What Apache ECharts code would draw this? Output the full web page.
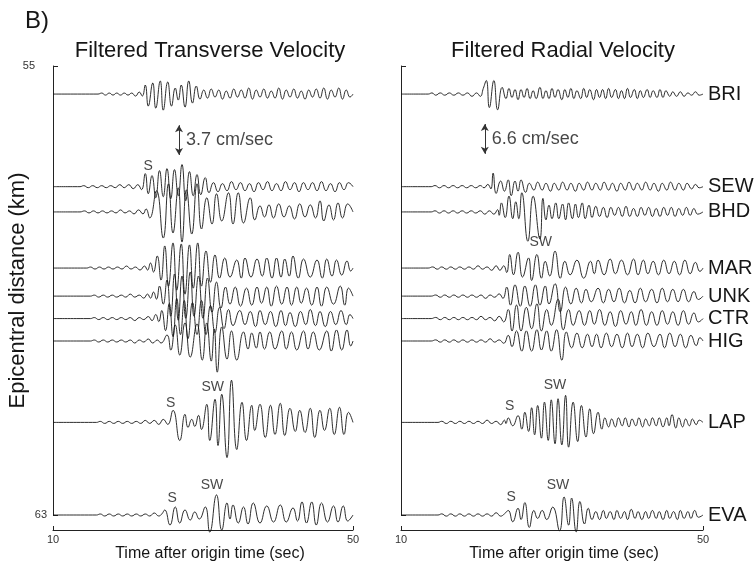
<!DOCTYPE html>
<html>
<head>
<meta charset="utf-8">
<script src="https://cdn.jsdelivr.net/npm/echarts@6/dist/echarts.min.js"></script>
<style>html,body{margin:0;padding:0;background:#fff}#chart{width:756px;height:567px}</style>
</head>
<body>
<div id="chart"></div>
<script>
// stations and epicentral distance (km)
var stations = ['BRI', 'SEW', 'BHD', 'MAR', 'UNK', 'CTR', 'HIG', 'LAP', 'EVA'];
var distances = [55.5, 57.15, 57.6, 58.6, 59.1, 59.5, 59.9, 61.35, 63.0];
var timeTicks = [10, 50];
var distTicks = [55, 63];
var scaleBars = [3.7, 6.6];           // cm/sec, transverse / radial

// digitized peaks and troughs: [time (sec), amplitude]
// transverse amplitudes in counts of 1/8 cm/sec
var tBRI = [[10,0],[16,0],[16.5,1],[17,-1],[17.5,1],[18,-1],[18.5,1],[19,-1],[19.5,1],[20,-1],[20.5,1],[21,-2],[21.5,2],[21.9,-2],[22.3,9],[22.7,-12],[23.3,11],[23.7,-14],[24.3,13],[24.7,-16],[25.3,12],[25.8,-12],[26.3,6],[26.7,-6],[27.1,9],[27.6,-13],[28.1,13],[28.6,-9],[29.1,8],[29.6,-5],[30.1,4],[30.6,-4],[31.1,5],[31.6,-3],[32.1,4],[32.6,-5],[33.1,3],[33.6,-4],[34.1,5],[34.6,-3],[35.1,4],[35.6,-4],[36.1,6],[36.6,-5],[37.1,4],[37.6,-3],[38.1,5],[38.6,-4],[39.1,3],[39.6,-4],[40.1,6],[40.6,-5],[41.1,4],[41.6,-3],[42.1,5],[42.6,-4],[43.1,3],[43.6,-5],[44.1,4],[44.6,-3],[45.1,5],[45.6,-4],[46.1,6],[46.6,-5],[47.1,4],[47.6,-3],[48.1,6],[48.6,-5],[49.1,4],[49.6,-3],[50,0]];
var tSEW = [[10,0],[13.6,0],[14.1,1],[14.7,-1],[15.3,1],[15.9,-1],[16.5,1],[17.1,-1],[17.7,1],[18.3,-1],[18.9,2],[19.5,-1],[20.1,2],[20.7,-2],[21.3,2],[21.8,-3],[22.3,13],[22.7,-7],[23.2,11],[23.7,-11],[24.2,16],[24.7,-10],[25.2,18],[25.7,-12],[26.2,17],[26.7,-9],[27.2,22],[27.7,-14],[28.2,15],[28.7,-9],[29.2,12],[29.7,-8],[30.3,9],[30.8,-6],[31.4,4],[32,-5],[32.6,3],[33.2,-4],[33.8,5],[34.4,-3],[35,4],[35.6,-4],[36.2,3],[36.8,-5],[37.4,4],[38,-3],[38.6,5],[39.2,-4],[39.8,3],[40.4,-4],[41,5],[41.6,-3],[42.2,4],[42.8,-5],[43.4,4],[44,-3],[44.6,4],[45.2,-4],[45.8,5],[46.4,-4],[47,3],[47.6,-5],[48.2,4],[48.8,-3],[49.4,4],[50,0]];
var tBHD = [[10,0],[13.6,0],[14.2,1],[14.8,-1],[15.4,1],[16,-1],[16.6,1],[17.2,-1],[17.8,1],[18.4,-1],[19,2],[19.6,-1],[20.2,1],[20.8,-2],[21.4,2],[22,-2],[22.4,3],[22.9,-6],[23.8,21],[24.7,-26],[25.4,28],[26,-21],[26.7,24],[27.2,-30],[27.8,22],[28.5,-22],[29.2,28],[29.8,-17],[30.5,14],[31.2,-12],[31.8,18],[32.5,-9],[33.4,19],[34,-12],[34.7,19],[35.4,-11],[36.3,14],[36.9,-8],[37.6,6],[38.2,-5],[38.8,7],[39.4,-6],[40.1,8],[40.8,-5],[41.5,6],[42.2,-7],[42.9,8],[43.6,-5],[44.3,7],[45,-6],[45.6,11],[46.1,-9],[46.8,7],[47.4,-8],[48,9],[48.6,-6],[49.3,8],[50,0]];
var tMAR = [[10,0],[14.5,0],[15,1],[15.6,-1],[16.2,1],[16.8,-1],[17.4,1],[18,-1],[18.6,1],[19.2,-1],[19.8,2],[20.4,-1],[21,1],[21.6,-2],[22.2,2],[22.6,-2],[23,5],[23.4,-4],[23.9,12],[24.4,-12],[24.9,22],[25.4,-18],[26,25],[26.5,-22],[27.1,24],[27.6,-26],[28.2,23],[28.7,-20],[29.3,25],[29.8,-18],[30.4,17],[31,-14],[31.6,13],[32.2,-10],[32.9,10],[33.6,-9],[34.5,8],[35.1,-10],[35.6,10],[36.4,-9],[37.2,9],[37.9,-8],[38.5,10],[39.2,-10],[39.8,10],[40.4,-9],[40.9,9],[41.5,-8],[42,12],[42.7,-10],[43.4,9],[44.3,-9],[45.2,8],[45.9,-10],[46.5,9],[47.2,-8],[47.8,8],[48.5,-7],[49.2,7],[49.7,-3],[50,0]];
var tUNK = [[10,0],[15,0],[15.5,1],[16.1,-1],[16.7,1],[17.3,-1],[17.9,1],[18.5,-1],[19.1,1],[19.7,-1],[20.3,2],[20.9,-1],[21.5,1],[22.1,-2],[22.6,2],[23,-2],[23.4,4],[23.8,-3],[24.2,10],[24.7,-8],[25.2,16],[25.7,-20],[26.2,22],[26.7,-24],[27.2,20],[27.7,-22],[28.3,24],[28.8,-20],[29.4,20],[30,-22],[30.6,18],[31.2,-16],[31.8,14],[32.4,-12],[33,9],[33.6,-8],[34.3,9],[35,-10],[35.8,8],[36.5,-9],[37.2,9],[37.8,-7],[38.5,9],[39.1,-10],[39.8,10],[40.5,-8],[41.2,9],[41.8,-9],[42.5,9],[43.1,-7],[43.8,8],[44.5,-9],[45.2,9],[45.8,-10],[46.5,9],[47.4,-8],[48.3,10],[48.9,-9],[49.4,8],[50,0]];
var tCTR = [[10,0],[15,0],[15.5,1],[16.1,-1],[16.7,1],[17.3,-1],[17.9,1],[18.5,-1],[19.1,1],[19.7,-1],[20.3,1],[20.9,-2],[21.5,1],[22.1,-1],[22.7,2],[23.2,-2],[23.7,4],[24.1,-3],[24.5,8],[25,-12],[25.5,15],[26,-18],[26.5,20],[27,-16],[27.5,18],[28,-20],[28.6,16],[29.2,-16],[29.8,18],[30.4,-16],[31,13],[31.6,-14],[32.2,11],[32.8,-10],[33.4,9],[34,-7],[34.9,8],[35.6,-6],[36.3,7],[37,-8],[37.6,8],[38.3,-6],[39,7],[39.7,-8],[40.4,8],[41,-7],[41.6,6],[42.3,-8],[43,7],[43.7,-6],[44.3,9],[45,-7],[45.6,7],[46.3,-8],[47,7],[47.7,-6],[48.4,8],[49.1,-6],[49.6,4],[50,0]];
var tHIG = [[10,0],[15,0],[15.5,1],[16.1,-1],[16.7,1],[17.3,-1],[17.9,1],[18.5,-1],[19.1,1],[19.7,-1],[20.3,1],[20.9,-2],[21.5,1],[22.1,-1],[22.7,2],[23.3,-2],[23.9,1],[24.4,-2],[25.2,6],[25.7,-9],[26.3,16],[26.9,-14],[27.6,18],[28.3,-16],[29.2,17],[29.9,-19],[30.5,18],[31.1,-20],[31.5,12],[31.9,-31],[32.5,14],[33.2,-18],[33.8,10],[34.5,-19],[35.4,9],[36,-8],[36.5,8],[37.1,-7],[37.6,9],[38.2,-8],[38.9,9],[39.6,-8],[40.5,10],[41.1,-8],[41.8,9],[42.5,-9],[43.4,10],[44,-8],[44.7,9],[45.5,-9],[46.5,10],[47.1,-10],[47.8,11],[48.5,-9],[49.2,11],[49.7,-5],[50,0]];
var tLAP = [[10,0],[15.8,0],[16.3,1],[16.9,-1],[17.5,1],[18.1,-1],[18.7,1],[19.3,-1],[19.9,1],[20.5,-1],[21.1,1],[21.7,-1],[22.3,2],[22.9,-1],[23.5,2],[24.1,-2],[24.7,3],[25.3,-2],[26,12],[26.9,-18],[27.6,8],[28,-5],[28.5,3],[28.9,-4],[29.4,7],[29.8,-7],[30.5,18],[30.9,-18],[31.6,23],[32,-23],[32.5,28],[33.2,-35],[33.8,42],[34.5,-27],[35.2,20],[35.8,-18],[36.5,17],[36.9,-8],[37.6,18],[38.3,-15],[39,17],[39.6,-12],[40.3,19],[40.9,-13],[41.6,14],[42.3,-9],[42.9,12],[43.6,-10],[44.3,14],[44.9,-15],[45.6,12],[46.2,-8],[46.9,14],[47.5,-12],[48.2,15],[48.8,-12],[49.4,10],[50,0]];
var tEVA = [[10,0],[15.8,0],[16.3,1],[16.9,-1],[17.5,1],[18.1,-1],[18.7,1],[19.3,-1],[19.9,1],[20.5,-1],[21.1,1],[21.7,-1],[22.3,1],[22.9,-1],[23.5,2],[24.1,-1],[24.5,1],[24.9,5],[25.6,-10],[26.3,8],[26.9,-8],[27.6,5],[28.3,-5],[28.9,3],[29.5,-4],[30.3,8],[30.9,-17],[31.8,20],[32.5,-15],[33.2,12],[33.6,-4],[34,10],[34.7,-8],[35.4,8],[36,-9],[36.7,12],[37.6,-8],[38.5,9],[39.4,-7],[40.3,10],[41.1,-7],[42,7],[42.6,-6],[43.2,13],[43.8,-8],[44.5,13],[45.1,-10],[45.8,12],[46.6,-7],[47.4,9],[48,-7],[48.7,9],[49.3,-6],[50,0]];

// radial amplitudes in counts of 1/4 cm/sec
var rBRI = [[10,0],[13.6,0],[14.1,1],[14.6,-1],[15.2,1],[15.8,-1],[16.4,1],[17,-1],[17.6,1],[18.2,-1],[18.8,1],[19.4,-2],[20,1],[20.5,-2],[20.9,5],[21.3,12],[21.7,-12],[22.3,12],[22.8,-14],[23.4,6],[23.9,-4],[24.3,5],[24.7,-3],[25.1,4],[25.5,-5],[25.9,4],[26.3,-3],[26.7,5],[27.1,-4],[27.5,3],[27.9,-4],[28.4,6],[28.8,-4],[29.2,3],[29.6,-4],[30,5],[30.4,-3],[30.8,4],[31.3,-5],[31.7,4],[32.1,-3],[32.5,5],[32.9,-4],[33.3,3],[33.8,-4],[34.2,5],[34.6,-3],[35,4],[35.5,-5],[35.9,4],[36.3,-3],[36.7,4],[37.1,-4],[37.5,5],[37.9,-3],[38.4,4],[38.8,-4],[39.2,3],[39.6,-4],[40,5],[40.4,-3],[40.9,4],[41.3,-4],[41.7,3],[42.1,-3],[42.6,4],[43,-3],[43.4,3],[43.9,-3],[44.3,4],[44.7,-3],[45.1,3],[45.6,-2],[46,2],[46.5,-2],[47,2],[47.5,-2],[48,1],[48.5,-1],[49,2],[49.5,-1],[50,0]];
var rSEW = [[10,0],[14,0],[14.5,1],[15.1,-1],[15.7,1],[16.3,-1],[16.9,1],[17.5,-1],[18.1,1],[18.7,-1],[19.3,1],[19.9,-1],[20.5,1],[21,-1],[21.5,2],[21.9,-2],[22.2,12],[22.6,-6],[23.2,5],[23.7,-4],[24.2,6],[24.6,-8],[25.1,5],[25.5,-4],[25.9,6],[26.5,-5],[27,3],[27.6,-3],[28.1,4],[28.7,-3],[29.2,3],[29.8,-4],[30.3,3],[30.9,-3],[31.4,4],[32,-3],[32.5,3],[33.1,-4],[33.6,3],[34.2,-3],[34.7,4],[35.3,-3],[35.8,3],[36.4,-3],[36.9,4],[37.5,-3],[38,3],[38.6,-4],[39.1,3],[39.7,-3],[40.2,4],[40.8,-3],[41.3,3],[41.9,-3],[42.4,4],[43,-3],[43.5,3],[44.1,-4],[44.6,3],[45.2,-3],[45.7,4],[46.3,-3],[46.8,3],[47.4,-3],[47.9,3],[48.5,-2],[49,2],[49.5,-1],[50,0]];
var rBHD = [[10,0],[14,0],[14.5,1],[15.1,-1],[15.7,1],[16.3,-1],[16.9,1],[17.5,-1],[18.1,1],[18.7,-1],[19.3,1],[19.9,-1],[20.5,1],[21.1,-2],[21.7,1],[22.3,-2],[22.8,2],[23,-3],[23.3,8],[23.8,-5],[24.3,14],[24.8,-6],[25.2,9],[25.6,-6],[26,17],[26.8,-26],[27.5,14],[28.4,-24],[28.8,12],[29.2,-7],[29.6,6],[30,-6],[30.5,8],[30.9,-6],[31.4,7],[31.8,-7],[32.2,8],[32.7,-6],[33.1,7],[33.5,-5],[34,8],[34.4,-6],[34.9,6],[35.3,-5],[35.8,5],[36.3,-4],[36.8,4],[37.3,-5],[37.8,4],[38.3,-3],[38.8,4],[39.3,-4],[39.8,5],[40.3,-4],[40.8,3],[41.3,-4],[41.8,4],[42.3,-3],[42.8,4],[43.3,-4],[43.8,3],[44.3,-4],[44.8,4],[45.3,-3],[45.8,4],[46.3,-4],[46.8,3],[47.3,-3],[47.8,4],[48.3,-3],[48.8,3],[49.3,-2],[50,0]];
var rMAR = [[10,0],[13.6,0],[14.2,1],[14.8,-1],[15.4,1],[16,-1],[16.6,1],[17.2,-1],[17.8,1],[18.4,-1],[19,1],[19.6,-1],[20.2,2],[20.8,-1],[21.4,1],[22,-2],[22.6,2],[23.1,-2],[23.6,2],[24,-4],[24.4,12],[24.9,-6],[25.5,14],[26.1,-8],[26.9,9],[27.3,-11],[28,12],[28.6,-9],[29.1,6],[29.7,-7],[30.4,15],[31.1,-9],[31.7,6],[32.4,-6],[33.3,7],[34.2,-9],[35.1,6],[35.6,-5],[36.1,7],[36.9,-6],[37.7,8],[38.4,-5],[39.2,7],[40,-6],[40.8,8],[41.4,-6],[42.1,7],[42.7,-5],[43.4,6],[44.1,-6],[44.8,7],[45.5,-5],[46.2,6],[46.9,-6],[47.6,7],[48.3,-5],[49,5],[49.6,-3],[50,0]];
var rUNK = [[10,0],[14,0],[14.6,1],[15.2,-1],[15.8,1],[16.4,-1],[17,1],[17.6,-1],[18.2,1],[18.8,-1],[19.4,1],[20,-1],[20.6,1],[21.2,-2],[21.8,1],[22.4,-1],[23,2],[23.5,-2],[24,8],[24.5,-8],[25.1,10],[25.8,-9],[26.4,9],[27.1,-9],[27.8,10],[28.4,-8],[29.1,9],[29.6,-7],[30.4,11],[31.1,-14],[31.8,8],[32.5,-7],[33.2,7],[33.9,-6],[34.5,6],[35.2,-5],[36.1,7],[36.8,-6],[37.5,6],[38.2,-5],[38.9,7],[39.6,-6],[40.3,5],[41,-6],[41.7,7],[42.4,-5],[43.2,6],[43.9,-6],[44.6,7],[45.3,-5],[46,6],[46.7,-5],[47.4,6],[48.1,-5],[48.8,4],[49.4,-3],[50,0]];
var rCTR = [[10,0],[14,0],[14.6,1],[15.2,-1],[15.8,1],[16.4,-1],[17,1],[17.6,-1],[18.2,1],[18.8,-1],[19.4,1],[20,-1],[20.6,2],[21.2,-1],[21.8,1],[22.4,-2],[23,2],[23.6,-3],[24.2,8],[24.7,-11],[25.3,12],[25.9,-11],[26.6,10],[27.3,-9],[28,13],[28.6,-11],[29.3,8],[29.9,-6],[30.8,17],[31.5,-10],[32.2,8],[32.8,-6],[33.6,7],[34.3,-6],[35,7],[35.6,-5],[36.3,8],[37,-6],[37.7,6],[38.4,-7],[39.1,7],[39.8,-5],[40.5,6],[41.1,-6],[41.8,8],[42.5,-6],[43.2,6],[43.9,-6],[44.6,7],[45.3,-5],[46,6],[46.7,-6],[47.4,7],[48.1,-5],[48.8,5],[49.4,-3],[50,0]];
var rHIG = [[10,0],[14,0],[14.6,1],[15.2,-1],[15.8,1],[16.4,-1],[17,1],[17.6,-1],[18.2,1],[18.8,-1],[19.4,1],[20,-1],[20.6,1],[21.2,-1],[21.8,2],[22.4,-1],[23,1],[23.6,-2],[24.2,5],[24.7,-5],[25.3,9],[26,-9],[26.6,9],[27.3,-9],[28,10],[28.6,-8],[29.3,9],[29.9,-9],[30.6,10],[31.3,-17],[31.9,8],[32.6,-6],[33.3,7],[34,-6],[34.7,6],[35.3,-5],[35.9,6],[36.5,-6],[37.2,7],[37.9,-5],[38.6,6],[39.3,-6],[40,7],[40.6,-5],[41.3,6],[42,-6],[42.7,7],[43.5,-5],[44.3,6],[44.9,-6],[45.6,7],[46.3,-5],[47,6],[47.7,-6],[48.4,5],[49.1,-4],[49.6,3],[50,0]];
var rLAP = [[10,0],[14.9,0],[15.4,1],[16,-1],[16.6,1],[17.2,-1],[17.8,1],[18.4,-1],[19,1],[19.6,-1],[20.2,1],[20.8,-1],[21.4,2],[22,-1],[22.6,1],[23.2,-2],[23.7,2],[23.9,-1],[24.2,4],[24.8,-3],[25.5,6],[26,-6],[26.4,9],[26.9,-8],[27.3,13],[27.7,-11],[28.1,15],[28.6,-14],[29,18],[29.5,-16],[29.9,20],[30.4,-19],[30.8,21],[31.3,-20],[31.8,24],[32.2,-22],[32.8,18],[33.4,-17],[33.9,15],[34.5,-13],[35,12],[35.5,-10],[36.1,9],[36.6,-6],[37,4],[37.5,-4],[37.9,3],[38.4,-4],[38.8,4],[39.3,-3],[39.7,4],[40.2,-4],[40.6,3],[41.1,-3],[41.5,4],[42,-4],[42.4,3],[42.9,-3],[43.3,4],[43.8,-3],[44.2,4],[44.7,-4],[45.2,4],[45.5,-3],[45.9,7],[46.4,-5],[46.8,4],[47.3,-4],[47.7,3],[48.2,-3],[48.6,3],[49.1,-2],[49.5,2],[50,0]];
var rEVA = [[10,0],[14.9,0],[15.4,1],[16,-1],[16.6,1],[17.2,-1],[17.8,1],[18.4,-1],[19,1],[19.6,-1],[20.2,1],[20.8,-1],[21.4,1],[22,-1],[22.6,2],[23.2,-1],[23.7,1],[24.2,4],[24.8,-6],[25.5,6],[25.9,-4],[26.4,11],[27,-11],[27.6,4],[28.1,-3],[28.7,4],[29.3,-4],[30.1,7],[31,-14],[31.6,16],[32.2,-9],[32.6,15],[33.2,-15],[33.7,12],[34.3,-8],[34.8,6],[35.3,-4],[35.8,3],[36.3,-4],[36.8,4],[37.2,-3],[37.7,3],[38.2,-4],[38.6,4],[39.1,-3],[39.6,3],[40,-4],[40.5,5],[41,-3],[41.4,3],[41.9,-4],[42.4,3],[42.8,-3],[43.3,4],[43.8,-3],[44.2,3],[44.7,-4],[45.2,4],[45.6,-3],[46.1,3],[46.6,-4],[47,4],[47.5,-3],[48,3],[48.4,-3],[48.9,4],[49.4,-2],[50,0]];

var transverse = [tBRI, tSEW, tBHD, tMAR, tUNK, tCTR, tHIG, tLAP, tEVA];
var radial = [rBRI, rSEW, rBHD, rMAR, rUNK, rCTR, rHIG, rLAP, rEVA];
var countCms = [0.125, 0.25];

// phase picks drawn as text
var picksT = [['S', 22.7, 56.78], ['S', 25.7, 61.0], ['SW', 31.3, 60.72], ['S', 25.9, 62.7], ['SW', 31.2, 62.47]];
var picksR = [['SW', 28.5, 58.14], ['S', 24.4, 61.06], ['SW', 30.4, 60.69], ['S', 24.6, 62.68], ['SW', 30.8, 62.47]];

var FONT = 'Liberation Sans';
var INK = '#161616';
var BAR_KM = 0.53;   // height of the amplitude scale arrow on the distance axis
var barPos = [[26.8, 56.32], [21.1, 56.3]];

var myChart = echarts.init(document.getElementById('chart'));

function traceData(picks, dist, panel) {
  var k = countCms[panel] * BAR_KM / scaleBars[panel];
  return picks.map(function (p) {
    return [p[0], dist - p[1] * k];
  });
}

function xAx(gi, pad) {
  return {
    gridIndex: gi, type: 'value', min: 10, max: 50, offset: 15,
    name: 'Time after origin time (sec)', nameLocation: 'middle', nameGap: 16, nameMoveOverlap: false,
    nameTextStyle: {fontSize: 16, color: INK, fontFamily: FONT, padding: [0, 0, 0, pad]},
    axisLine: {lineStyle: {color: '#222', width: 1}},
    axisTick: {inside: true, length: 4, customValues: timeTicks, lineStyle: {color: '#222'}},
    axisLabel: {customValues: timeTicks, fontSize: 11, color: '#333', margin: 4, fontFamily: FONT},
    splitLine: {show: false}
  };
}

function yAx(gi, labels) {
  return {
    gridIndex: gi, type: 'value', min: 55, max: 63, inverse: true,
    name: labels ? 'Epicentral distance (km)' : '', nameLocation: 'middle', nameGap: 24, nameMoveOverlap: false,
    nameTextStyle: {fontSize: 22, color: INK, fontFamily: FONT},
    axisLine: {show: true, lineStyle: {color: '#222', width: 1}},
    axisTick: {show: true, inside: true, length: 5, customValues: distTicks, lineStyle: {color: '#222'}},
    axisLabel: {
      show: labels, customValues: distTicks, fontSize: 11, color: '#333', margin: 6, fontFamily: FONT,
      formatter: function (v) { return v === 55 ? '{a|55}' : String(v); },
      rich: {a: {fontSize: 11, color: '#333', padding: [0, 12, 0, 0], fontFamily: FONT}}
    },
    splitLine: {show: false}
  };
}

var series = [];
stations.forEach(function (s, i) {
  series.push({
    name: s + ' T', type: 'line', xAxisIndex: 0, yAxisIndex: 0,
    data: traceData(transverse[i], distances[i], 0),
    showSymbol: false, smooth: 0.5, clip: false, silent: true,
    lineStyle: {color: INK, width: 0.9}
  });
  series.push({
    name: s, type: 'line', xAxisIndex: 1, yAxisIndex: 1,
    data: traceData(radial[i], distances[i], 1),
    showSymbol: false, smooth: 0.5, clip: false, silent: true,
    lineStyle: {color: INK, width: 0.9},
    endLabel: {show: true, formatter: s, distance: 5, fontSize: 20, color: INK, fontFamily: FONT}
  });
});

[0, 1].forEach(function (p) {
  var picks = p === 0 ? picksT : picksR;
  series.push({
    type: 'scatter', xAxisIndex: p, yAxisIndex: p, symbolSize: 0, silent: true,
    data: picks.map(function (d) { return {name: d[0], value: [d[1], d[2]]}; }),
    label: {show: true, position: 'inside', formatter: '{b}', fontSize: 14, color: INK, fontFamily: FONT}
  });
  var half = BAR_KM / 2;
  series.push({
    type: 'scatter', xAxisIndex: p, yAxisIndex: p, symbolSize: 0, silent: true,
    data: [{name: scaleBars[p] + ' cm/sec', value: barPos[p]}],
    label: {show: true, position: 'right', distance: 7, formatter: '{b}', fontSize: 18, color: INK, fontFamily: FONT},
    markLine: {
      silent: true, symbol: ['arrow', 'arrow'], symbolSize: [6, 7],
      lineStyle: {color: '#333', width: 1, type: 'solid'}, label: {show: false},
      data: [[{coord: [barPos[p][0], barPos[p][1] - half]}, {coord: [barPos[p][0], barPos[p][1] + half]}]]
    }
  });
});

var option = {
  animation: false,
  backgroundColor: '#fff',
  grid: [
    {left: 53, top: 66, width: 300, height: 449, outerBoundsMode: 'none'},
    {left: 401, top: 66, width: 302, height: 449, outerBoundsMode: 'none'}
  ],
  xAxis: [xAx(0, 14), xAx(1, 24)],
  yAxis: [yAx(0, true), yAx(1, false)],
  graphic: [
    {type: 'text', x: 25, y: 21, style: {text: 'B)', fontSize: 24, fill: INK, fontFamily: FONT, align: 'left', verticalAlign: 'middle'}},
    {type: 'text', x: 210, y: 51, style: {text: 'Filtered Transverse Velocity', fontSize: 22, fill: INK, fontFamily: FONT, align: 'center', verticalAlign: 'middle'}},
    {type: 'text', x: 563, y: 51, style: {text: 'Filtered Radial Velocity', fontSize: 22, fill: INK, fontFamily: FONT, align: 'center', verticalAlign: 'middle'}}
  ],
  series: series
};

myChart.setOption(option);
</script>
</body>
</html>
